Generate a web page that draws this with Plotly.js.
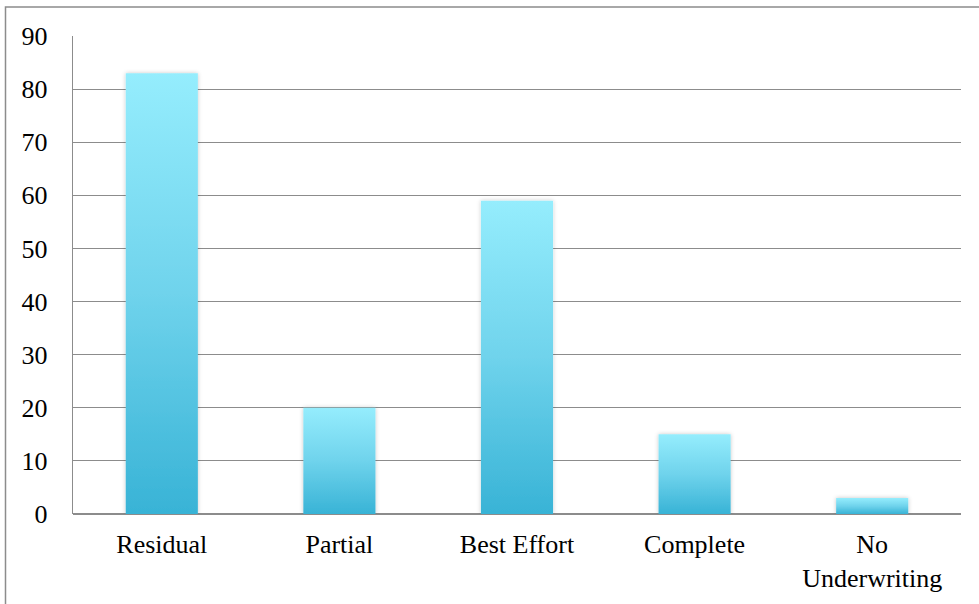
<!DOCTYPE html>
<html>
<head>
<meta charset="utf-8">
<script src="https://cdn.plot.ly/plotly-3.0.1.min.js"></script>
<style>html,body{margin:0;padding:0;background:#fff;}#chart{width:979px;height:604px;}</style>
</head>
<body>
<div id="chart"></div>
<script>
const categories = ["Residual", "Partial", "Best Effort", "Complete", "No<br>Underwriting"];
const values = [83, 20, 59, 15, 3];
const yTickVals = [0, 10, 20, 30, 40, 50, 60, 70, 80, 90];

const trace = {
  type: "bar",
  x: categories,
  y: values,
  width: 0.406,
  marker: { color: "#66cde8", line: { width: 0 } },
  hoverinfo: "skip"
};

const layout = {
  width: 979,
  height: 604,
  margin: { l: 73, r: 18, t: 36, b: 90 },
  paper_bgcolor: "#ffffff",
  plot_bgcolor: "#ffffff",
  showlegend: false,
  font: { family: "Liberation Serif", size: 26, color: "#000" },
  xaxis: {
    type: "category",
    showgrid: false,
    zeroline: false,
    showline: false,
    ticks: "",
    ticklabelstandoff: 12,
    tickfont: { family: "Liberation Serif", size: 26 }
  },
  yaxis: {
    range: [0, 90],
    tickvals: yTickVals,
    showgrid: true,
    gridcolor: "#8c8c8c",
    gridwidth: 1.2,
    zeroline: true,
    zerolinecolor: "#8c8c8c",
    zerolinewidth: 1.2,
    showline: true,
    linecolor: "#8c8c8c",
    linewidth: 1.2,
    ticks: "",
    ticklabelstandoff: 19,
    tickfont: { family: "Liberation Serif", size: 26 }
  },
  shapes: [{
    type: "rect", xref: "paper", yref: "paper",
    x0: -67.5 / 888, x1: 940 / 888, y0: -120 / 478, y1: 1 + 29 / 478,
    line: { color: "#8c8c8c", width: 1.5 }, fillcolor: "rgba(0,0,0,0)", layer: "below"
  }]
};

Plotly.newPlot("chart", [trace], layout, { staticPlot: true }).then(function (gd) {
  const svg = gd.querySelector("svg.main-svg");
  const ns = "http://www.w3.org/2000/svg";
  let defs = svg.querySelector("defs");
  if (!defs) { defs = document.createElementNS(ns, "defs"); svg.insertBefore(defs, svg.firstChild); }
  const grad = document.createElementNS(ns, "linearGradient");
  grad.setAttribute("id", "barGrad");
  grad.setAttribute("x1", "0"); grad.setAttribute("y1", "0");
  grad.setAttribute("x2", "0"); grad.setAttribute("y2", "1");
  [["0", "#95edfd"], ["0.5", "#6fd3ec"], ["1", "#38b3d6"]].forEach(function (s) {
    const st = document.createElementNS(ns, "stop");
    st.setAttribute("offset", s[0]); st.setAttribute("stop-color", s[1]);
    grad.appendChild(st);
  });
  defs.appendChild(grad);
  const filt = document.createElementNS(ns, "filter");
  filt.setAttribute("id", "barShadow");
  filt.setAttribute("x", "-20%"); filt.setAttribute("y", "-20%");
  filt.setAttribute("width", "140%"); filt.setAttribute("height", "140%");
  const ds = document.createElementNS(ns, "feDropShadow");
  ds.setAttribute("dx", "0"); ds.setAttribute("dy", "0");
  ds.setAttribute("stdDeviation", "2"); ds.setAttribute("flood-color", "#000");
  ds.setAttribute("flood-opacity", "0.22");
  filt.appendChild(ds);
  defs.appendChild(filt);
  gd.querySelectorAll(".trace.bars .point path").forEach(function (p) {
    p.style.fill = "url(#barGrad)";
    p.setAttribute("filter", "url(#barShadow)");
  });
});
</script>
</body>
</html>
